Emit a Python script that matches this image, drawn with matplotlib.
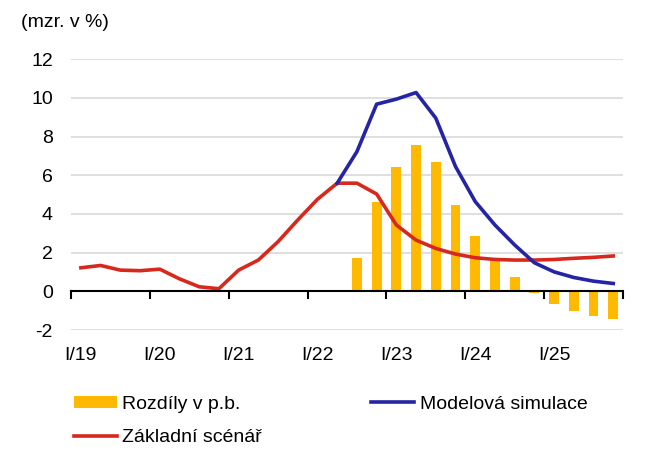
import numpy as np
import matplotlib.pyplot as plt

plt.rcParams['font.family'] = ['Liberation Sans', 'DejaVu Sans']
plt.rcParams['axes.unicode_minus'] = False

# quarterly data, I/19 .. IV/25
years = ['I/19', 'I/20', 'I/21', 'I/22', 'I/23', 'I/24', 'I/25']

zakladni = [1.22, 1.34, 1.10, 1.07, 1.15, 0.65, 0.24, 0.14,
            1.10, 1.62, 2.57, 3.69, 4.76, 5.59, 5.59, 5.03,
            3.43, 2.65, 2.22, 1.93, 1.74, 1.65, 1.62, 1.62,
            1.65, 1.71, 1.76, 1.83]

# model simulation starts where it departs from the baseline (II/22)
modelova = [np.nan] * 13 + [5.59, 7.22, 9.67, 9.93, 10.27, 8.95, 6.45,
                            4.64, 3.43, 2.40, 1.48, 1.01, 0.72, 0.53, 0.41]

rozdily = [np.nan] * 14 + [1.71, 4.60, 6.45, 7.55, 6.70, 4.45, 2.88,
                           1.58, 0.76, -0.07, -0.66, -1.00, -1.26, -1.42]

c_bar = '#FFB900'
c_blue = '#2424A4'
c_red = '#D7281E'

fig = plt.figure(figsize=(6.7, 4.65), dpi=100)
ax = fig.add_axes([0.106, 0.290, 0.824, 0.583])

x = np.arange(len(zakladni))

bars = ax.bar(x, rozdily, width=0.5, color=c_bar, label='Rozdíly v p.b.', zorder=2)
l_red, = ax.plot(x, zakladni, color=c_red, lw=2.6, label='Základní scénář', zorder=3)
l_blue, = ax.plot(x, modelova, color=c_blue, lw=2.6, label='Modelová simulace', zorder=3)

ax.set_xlim(-0.5, len(x) - 0.5)
ax.set_ylim(-2, 12)
ax.set_yticks(range(-2, 13, 2))
ax.yaxis.grid(True, color='#D9D9D9', lw=1.2)
ax.set_axisbelow(True)
ax.tick_params(axis='y', length=0, pad=13, labelsize=14)

for s in ['top', 'right', 'left', 'bottom']:
    ax.spines[s].set_visible(False)

# zero axis with ticks at year boundaries
ax.axhline(0, color='black', lw=1.5, zorder=4)
for b in range(0, len(x) + 1, 4):
    ax.plot([b - 0.5, b - 0.5], [0, -0.32], color='black', lw=1.5,
            zorder=4, clip_on=False)

ax.set_xticks(np.arange(0, len(x), 4))
ax.set_xticklabels(years)
ax.tick_params(axis='x', length=0, pad=12, labelsize=14)

fig.text(0.031, 0.951, '(mzr. v %)', fontsize=14, va='center', ha='left')

fig.legend([bars, l_red, l_blue],
           ['Rozdíly v p.b.', 'Základní scénář', 'Modelová simulace'],
           loc='upper left', bbox_to_anchor=(0.0985, 0.166), ncol=2,
           frameon=False, fontsize=14, handlelength=2.2, handletextpad=0.3,
           handleheight=0.55, columnspacing=5.6, labelspacing=0.86,
           borderaxespad=0)

fig.savefig('out.png', dpi=100)
